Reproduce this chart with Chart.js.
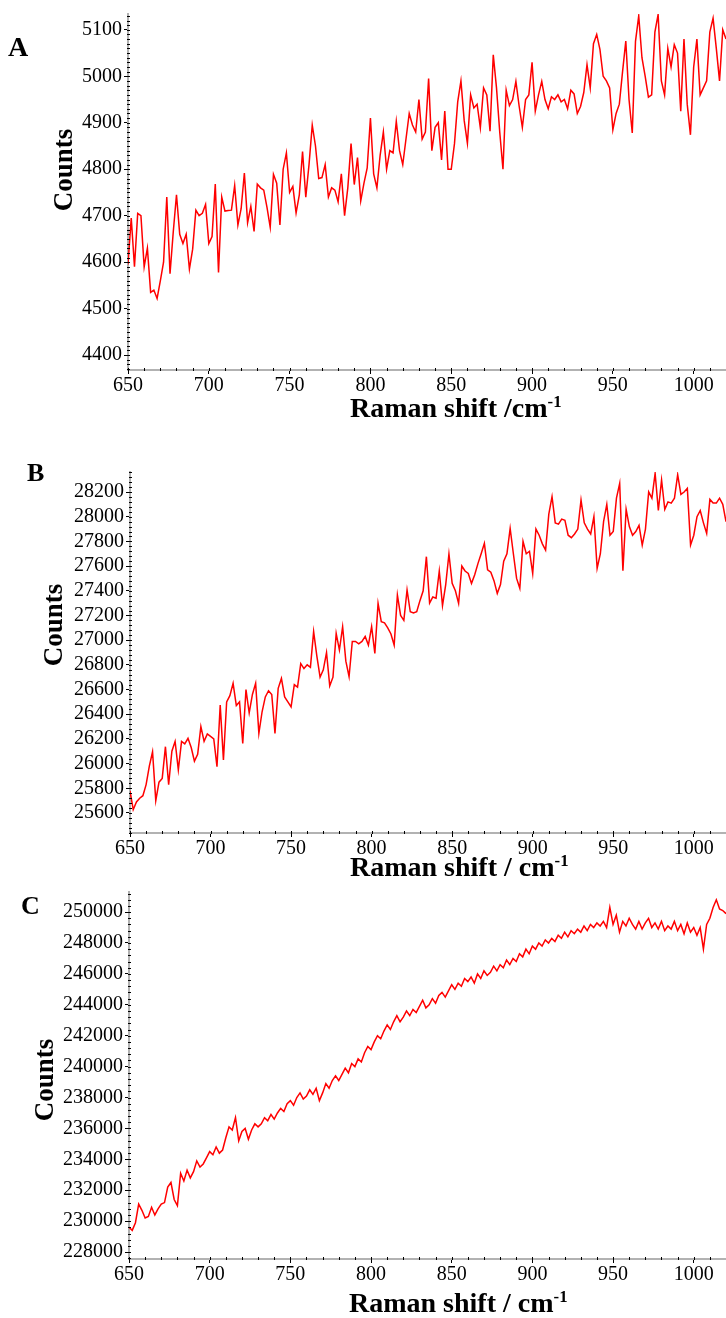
<!DOCTYPE html>
<html>
<head>
<meta charset="utf-8">
<title>Raman spectra</title>
<script src="https://cdn.jsdelivr.net/npm/chart.js@4.4.1/dist/chart.umd.min.js"></script>
<style>
  html, body { margin: 0; padding: 0; background: #fff; }
  #page { position: relative; width: 726px; height: 1318px; overflow: hidden;
          font-family: 'Liberation Serif', 'Times New Roman', serif; color: #000; }
  canvas { position: absolute; left: 0; }
  .tag { position: absolute; font-weight: bold; line-height: 1; }
  .ytitle { position: absolute; font-weight: bold; font-size: 27px; line-height: 1; white-space: nowrap;
            transform: translate(-50%, -50%) rotate(-90deg); }
  .xtitle { position: absolute; font-weight: bold; font-size: 28px; line-height: 1; white-space: nowrap; }
  .xtitle sup { font-size: 0.6em; vertical-align: baseline; position: relative; top: -0.6em; }
</style>
</head>
<body>
<div id="page">
  <canvas id="chartA" width="726" height="430" style="top:0px"></canvas>
  <canvas id="chartB" width="726" height="440" style="top:430px"></canvas>
  <canvas id="chartC" width="726" height="448" style="top:870px"></canvas>

  <div class="tag" style="left:8px; top:33px; font-size:28px;">A</div>
  <div class="tag" style="left:27px; top:460px; font-size:26px;">B</div>
  <div class="tag" style="left:21px; top:893px; font-size:26px;">C</div>

  <div class="ytitle" style="left:63px; top:170px;">Counts</div>
  <div class="ytitle" style="left:53px; top:625px;">Counts</div>
  <div class="ytitle" style="left:44px; top:1080px;">Counts</div>

  <div class="xtitle" style="left:350px; top:394px;">Raman shift /cm<sup>-1</sup></div>
  <div class="xtitle" style="left:350px; top:853px;">Raman shift / cm<sup>-1</sup></div>
  <div class="xtitle" style="left:349px; top:1289px;">Raman shift / cm<sup>-1</sup></div>
</div>

<script>
// Raman shift (cm-1) sampled every 2 wavenumbers
const ramanShift = [
  650, 652, 654, 656, 658, 660, 662, 664, 666, 668,
  670, 672, 674, 676, 678, 680, 682, 684, 686, 688,
  690, 692, 694, 696, 698, 700, 702, 704, 706, 708,
  710, 712, 714, 716, 718, 720, 722, 724, 726, 728,
  730, 732, 734, 736, 738, 740, 742, 744, 746, 748,
  750, 752, 754, 756, 758, 760, 762, 764, 766, 768,
  770, 772, 774, 776, 778, 780, 782, 784, 786, 788,
  790, 792, 794, 796, 798, 800, 802, 804, 806, 808,
  810, 812, 814, 816, 818, 820, 822, 824, 826, 828,
  830, 832, 834, 836, 838, 840, 842, 844, 846, 848,
  850, 852, 854, 856, 858, 860, 862, 864, 866, 868,
  870, 872, 874, 876, 878, 880, 882, 884, 886, 888,
  890, 892, 894, 896, 898, 900, 902, 904, 906, 908,
  910, 912, 914, 916, 918, 920, 922, 924, 926, 928,
  930, 932, 934, 936, 938, 940, 942, 944, 946, 948,
  950, 952, 954, 956, 958, 960, 962, 964, 966, 968,
  970, 972, 974, 976, 978, 980, 982, 984, 986, 988,
  990, 992, 994, 996, 998, 1000, 1002, 1004, 1006, 1008,
  1010, 1012, 1014, 1016, 1018, 1020
];

// sample A
const countsA = [
  4595, 4695, 4590, 4705, 4700, 4590, 4630, 4535, 4540, 4522,
  4560, 4600, 4740, 4575, 4665, 4745, 4660, 4640, 4660, 4585,
  4628, 4712, 4700, 4705, 4724, 4640, 4655, 4768, 4578, 4740,
  4710, 4711, 4712, 4765, 4680, 4715, 4792, 4685, 4720, 4666,
  4768, 4760, 4755, 4718, 4675, 4789, 4770, 4680, 4800, 4835,
  4750, 4763, 4706, 4745, 4838, 4740, 4810, 4895, 4850, 4780,
  4782, 4810, 4740, 4760, 4755, 4730, 4790, 4700, 4760, 4855,
  4767, 4825, 4732, 4770, 4803, 4910, 4790, 4760, 4830, 4880,
  4800, 4840, 4835, 4903, 4840, 4810, 4865, 4920, 4895, 4880,
  4950, 4865, 4880, 4995, 4840, 4890, 4900, 4820, 4925, 4800,
  4800, 4855, 4945, 4990, 4905, 4856, 4960, 4932, 4940, 4889,
  4975, 4960, 4882, 5046, 4975, 4880, 4800, 4970, 4937, 4950,
  4989, 4936, 4890, 4950, 4960, 5030, 4925, 4960, 4989, 4950,
  4930, 4956, 4950, 4960, 4945, 4950, 4930, 4970, 4962, 4920,
  4935, 4965, 5025, 4975, 5070, 5090, 5058, 5000, 4990, 4975,
  4885, 4920, 4940, 5010, 5076, 4950, 4878, 5075, 5130, 5040,
  5000, 4955, 4960, 5095, 5133, 4990, 4960, 5060, 5020, 5068,
  5050, 4925, 5080, 4940, 4874, 5020, 5080, 4960, 4975, 4990,
  5095, 5125, 5060, 4990, 5100, 5080
];

// sample B
const countsB = [
  25780, 25627, 25690, 25720, 25740, 25830, 25980, 26096, 25700, 25850,
  25880, 26137, 25830, 26100, 26180, 25950, 26180, 26160, 26205, 26130,
  26020, 26075, 26300, 26180, 26240, 26220, 26200, 25975, 26474, 26029,
  26500, 26550, 26650, 26470, 26500, 26164, 26600, 26410, 26560, 26650,
  26245, 26420, 26540, 26590, 26560, 26245, 26610, 26690, 26540, 26500,
  26460, 26640, 26620, 26810, 26770, 26800, 26780, 27069, 26870, 26700,
  26760, 26900, 26630, 26700, 27055, 26920, 27109, 26830, 26704, 26990,
  26990, 26970, 26990, 27030, 26960, 27109, 26893, 27298, 27150, 27140,
  27100, 27050, 26960, 27365, 27200, 27160, 27406, 27230, 27220, 27230,
  27320, 27400, 27676, 27300, 27350, 27340, 27560, 27280, 27450, 27698,
  27460, 27400, 27298, 27600, 27560, 27540, 27460, 27530, 27620, 27700,
  27784, 27570, 27550, 27480, 27379, 27450, 27640, 27700, 27905, 27700,
  27500, 27420, 27800, 27700, 27720, 27540, 27900, 27850, 27780, 27730,
  28020, 28162, 27950, 27940, 27980, 27970, 27850, 27830, 27860, 27900,
  28135, 27950, 27900, 27860, 28000, 27582, 27700, 27960, 28100, 27850,
  27880, 28150, 28270, 27563, 28060, 27920, 27850, 27880, 27930, 27770,
  27900, 28200, 28150, 28351, 28050, 28297, 28060, 28120, 28110, 28150,
  28340, 28180, 28200, 28230, 27770, 27850, 28000, 28050, 27950, 27865,
  28140, 28110, 28110, 28150, 28100, 27960
];

// sample C
const countsC = [
  229600, 229400, 229900, 231100, 230700, 230200, 230300, 230900, 230400, 230800,
  231100, 231200, 232200, 232500, 231400, 231000, 233100, 232600, 233300, 232800,
  233200, 233900, 233500, 233700, 234100, 234500, 234300, 234800, 234400, 234600,
  235400, 236100, 235900, 236700, 235200, 235800, 236000, 235300, 235900, 236300,
  236100, 236300, 236700, 236500, 236900, 236600, 237000, 237300, 237100, 237600,
  237800, 237500, 238000, 238300, 237900, 238100, 238500, 238200, 238600, 237800,
  238300, 238900, 238600, 239100, 239400, 239100, 239500, 239900, 239600, 240200,
  240000, 240500, 240300, 240900, 241300, 241100, 241600, 242000, 241800, 242300,
  242700, 242400, 242900, 243300, 242900, 243200, 243600, 243300, 243700, 243500,
  243900, 244300, 243800, 244000, 244400, 244100, 244600, 244800, 244500, 244900,
  245300, 245000, 245400, 245200, 245700, 245500, 245800, 245400, 246000, 245700,
  246200, 245900, 246100, 246500, 246200, 246600, 246400, 246900, 246600, 247000,
  246800, 247300, 247100, 247600, 247300, 247800, 247600, 248000, 247800, 248200,
  248000, 248300, 248100, 248500, 248300, 248700, 248400, 248800, 248600, 248900,
  248700, 249100, 248800, 249200, 249000, 249300, 249100, 249400, 249000, 250300,
  249200, 249800, 248700, 249400, 249100, 249600, 249200, 248900, 249400, 248900,
  249300, 249600, 249000, 249300, 248900, 249400, 248800, 249100, 248900, 249400,
  248800, 249200, 248600, 249300, 248700, 249000, 248500, 249000, 247600, 249200,
  249600, 250300, 250800, 250200, 250100, 249900
];

const shiftTicks = [650, 700, 750, 800, 850, 900, 950, 1000];
const ticksA = [4400, 4450, 4500, 4550, 4600, 4650, 4700, 4750, 4800, 4850, 4900, 4950, 5000, 5050, 5100];
const ticksB = [25600, 25800, 26000, 26200, 26400, 26600, 26800, 27000, 27200, 27400, 27600, 27800, 28000, 28200];
const ticksC = [228000, 230000, 232000, 234000, 236000, 238000, 240000, 242000, 244000, 246000, 248000, 250000];

const AXIS_GREY = '#b2b2b2';
const TICK_FONT = { family: "'Liberation Serif', 'Times New Roman', serif", size: 20 };

// small tick marks between the labelled ones, on both axes
const minorTicks = {
  id: 'minorTicks',
  afterDraw(chart, args, opts) {
    const { ctx, chartArea: a, scales: { x, y } } = chart;
    ctx.save();
    ctx.strokeStyle = '#000';
    ctx.lineWidth = 1;
    ctx.beginPath();
    for (let v = x.min; v <= x.max; v += opts.xStep) {
      const px = Math.round(x.getPixelForValue(v)) + 0.5;
      ctx.moveTo(px, a.bottom - 2);
      ctx.lineTo(px, a.bottom + 1);
    }
    for (let v = Math.ceil(y.min / opts.yStep) * opts.yStep; v <= y.max; v += opts.yStep) {
      const py = Math.round(y.getPixelForValue(v)) + 0.5;
      ctx.moveTo(a.left - 1, py);
      ctx.lineTo(a.left + 2, py);
    }
    ctx.stroke();
    ctx.restore();
  }
};

function drawSpectrum(id, counts, yTicks, yMin, yMax, yMinor, box) {
  const canvas = document.getElementById(id);
  return new Chart(canvas, {
    type: 'line',
    data: {
      datasets: [{
        data: ramanShift.map((x, i) => ({ x, y: counts[i] })),
        borderColor: '#ff0000',
        borderWidth: 1.5,
        pointRadius: 0,
        tension: 0,
        fill: false
      }]
    },
    options: {
      responsive: false,
      animation: false,
      devicePixelRatio: 1,
      layout: { padding: { top: box.top, right: 0, bottom: 0, left: 0 } },
      plugins: {
        legend: { display: false },
        tooltip: { enabled: false },
        minorTicks: { xStep: 10, yStep: yMinor }
      },
      scales: {
        x: {
          type: 'linear',
          min: 650,
          max: 1020,
          afterBuildTicks: s => { s.ticks = shiftTicks.map(value => ({ value })); },
          afterFit: s => { s.height = box.xAxisHeight; },
          grid: { drawOnChartArea: false, drawTicks: true, tickLength: 4, color: '#000', lineWidth: 1 },
          border: { display: true, color: AXIS_GREY, width: 2 },
          ticks: { color: '#000', font: TICK_FONT, padding: 0, maxRotation: 0, callback: v => String(v) }
        },
        y: {
          type: 'linear',
          min: yMin,
          max: yMax,
          afterBuildTicks: s => { s.ticks = yTicks.map(value => ({ value })); },
          afterFit: s => { s.width = box.left; },
          grid: { drawOnChartArea: false, drawTicks: true, tickLength: 4, color: '#000', lineWidth: 1 },
          border: { display: true, color: AXIS_GREY, width: 2 },
          ticks: { color: '#000', font: TICK_FONT, padding: 2, callback: v => String(v) }
        }
      }
    },
    plugins: [minorTicks]
  });
}

drawSpectrum('chartA', countsA, ticksA, 4368, 5134, 10, { top: 12, left: 128, xAxisHeight: 60 });
drawSpectrum('chartB', countsB, ticksB, 25438, 28362, 40, { top: 42, left: 130, xAxisHeight: 37 });
drawSpectrum('chartC', countsC, ticksC, 227550, 251300, 400, { top: 22, left: 129, xAxisHeight: 59 });
</script>
</body>
</html>
